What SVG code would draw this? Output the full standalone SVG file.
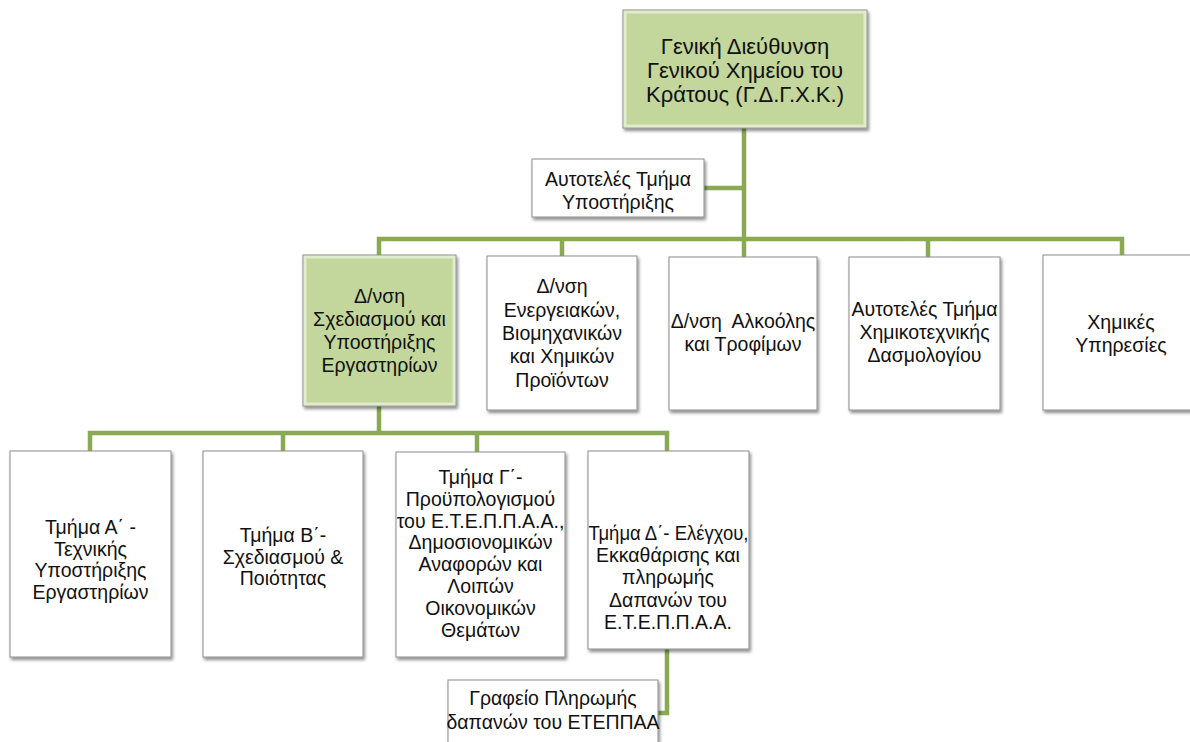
<svg xmlns="http://www.w3.org/2000/svg" width="1190" height="742" viewBox="0 0 1190 742">
<style>
.box{fill:#ffffff;stroke:#8c8c8c;stroke-width:1;filter:url(#sh)}
.gbox{fill:#c3d69b;stroke:#8c8c8c;stroke-width:1;filter:url(#sh)}
.bev{fill:none;stroke:#ffffff;stroke-opacity:0.5;stroke-width:3}
text{font-family:"Liberation Sans",Arial,sans-serif;font-size:19.5px;fill:#111111;text-anchor:middle}
.big{font-size:22px}
.con{fill:none;stroke:#89a952;stroke-width:4.5;stroke-linejoin:miter}
</style>
<defs>
<filter id="sh" x="-10%" y="-10%" width="130%" height="130%">
<feDropShadow dx="1.5" dy="2.5" stdDeviation="1.8" flood-color="#000" flood-opacity="0.45"/>
</filter>
</defs>
<rect width="1190" height="742" fill="#ffffff"/>
<g id="connectors">
<path class="con" d="M744 128 V239"/>
<path class="con" d="M704 188 H744"/>
<path class="con" d="M379 255 V239 H1122 V255"/>
<path class="con" d="M562 239 V256"/>
<path class="con" d="M744 239 V257"/>
<path class="con" d="M928 239 V257"/>
<path class="con" d="M379 406 V433"/>
<path class="con" d="M90 451 V433 H667 V451"/>
<path class="con" d="M283 433 V451"/>
<path class="con" d="M477 433 V452"/>
<path class="con" d="M667 649 V713 H658"/>
</g>
<g id="n-top">
<rect class="gbox" x="623" y="10" width="244" height="118"/>
<rect class="bev" x="625" y="12" width="240" height="114"/>
<text class="big" x="745" y="54">Γενική Διεύθυνση</text>
<text class="big" x="745" y="78">Γενικού Χημείου του</text>
<text class="big" x="745" y="102">Κράτους (Γ.Δ.Γ.Χ.Κ.)</text>
</g>
<g id="n-support">
<rect class="box" x="532" y="159" width="172" height="58"/>
<text x="618" y="186">Αυτοτελές Τμήμα</text>
<text x="618" y="209">Υποστήριξης</text>
</g>
<g id="n-dsy">
<rect class="gbox" x="303" y="255" width="153" height="151"/>
<rect class="bev" x="305" y="257" width="149" height="147"/>
<text x="379.5" y="303">Δ/νση</text>
<text x="379.5" y="326">Σχεδιασμού και</text>
<text x="379.5" y="349">Υποστήριξης</text>
<text x="379.5" y="372">Εργαστηρίων</text>
</g>
<g id="n-energ">
<rect class="box" x="487" y="256" width="150" height="154"/>
<text x="562" y="293">Δ/νση</text>
<text x="562" y="317">Ενεργειακών,</text>
<text x="562" y="340">Βιομηχανικών</text>
<text x="562" y="363">και Χημικών</text>
<text x="562" y="387">Προϊόντων</text>
</g>
<g id="n-alk">
<rect class="box" x="669" y="257" width="148" height="153"/>
<text x="743" y="328">Δ/νση&#160; Αλκοόλης</text>
<text x="743" y="351">και Τροφίμων</text>
</g>
<g id="n-xim">
<rect class="box" x="849" y="257" width="151" height="153"/>
<text x="924.5" y="316">Αυτοτελές Τμήμα</text>
<text x="924.5" y="339">Χημικοτεχνικής</text>
<text x="924.5" y="362">Δασμολογίου</text>
</g>
<g id="n-ypir">
<rect class="box" x="1043" y="255" width="160" height="155"/>
<text x="1121" y="329">Χημικές</text>
<text x="1121" y="352">Υπηρεσίες</text>
</g>
<g id="n-a">
<rect class="box" x="10" y="451" width="161" height="206"/>
<text x="90.5" y="534">Τμήμα Α΄ -</text>
<text x="90.5" y="555.5">Τεχνικής</text>
<text x="90.5" y="577">Υποστήριξης</text>
<text x="90.5" y="598.5">Εργαστηρίων</text>
</g>
<g id="n-b">
<rect class="box" x="203" y="451" width="160" height="206"/>
<text x="283" y="542">Τμήμα Β΄-</text>
<text x="283" y="564">Σχεδιασμού &amp;</text>
<text x="283" y="585">Ποιότητας</text>
</g>
<g id="n-g">
<rect class="box" x="396" y="452" width="169" height="205"/>
<text x="480.5" y="484">Τμήμα Γ΄-</text>
<text x="480.5" y="506">Προϋπολογισμού</text>
<text x="480.5" y="528">του Ε.Τ.Ε.Π.Π.Α.Α.,</text>
<text x="480.5" y="549">Δημοσιονομικών</text>
<text x="480.5" y="571">Αναφορών και</text>
<text x="480.5" y="593">Λοιπών</text>
<text x="480.5" y="615">Οικονομικών</text>
<text x="480.5" y="637">Θεμάτων</text>
</g>
<g id="n-d">
<rect class="box" x="588" y="451" width="161" height="198"/>
<text x="668.5" y="540" textLength="160" lengthAdjust="spacingAndGlyphs">Τμήμα Δ΄- Ελέγχου,</text>
<text x="668" y="562">Εκκαθάρισης και</text>
<text x="668" y="584">πληρωμής</text>
<text x="668" y="607">Δαπανών του</text>
<text x="668" y="629">Ε.Τ.Ε.Π.Π.Α.Α.</text>
</g>
<g id="n-graf">
<rect class="box" x="448" y="680" width="210" height="72"/>
<text x="553" y="705">Γραφείο Πληρωμής</text>
<text x="553" y="729">δαπανών του ΕΤΕΠΠΑΑ</text>
</g>
</svg>
